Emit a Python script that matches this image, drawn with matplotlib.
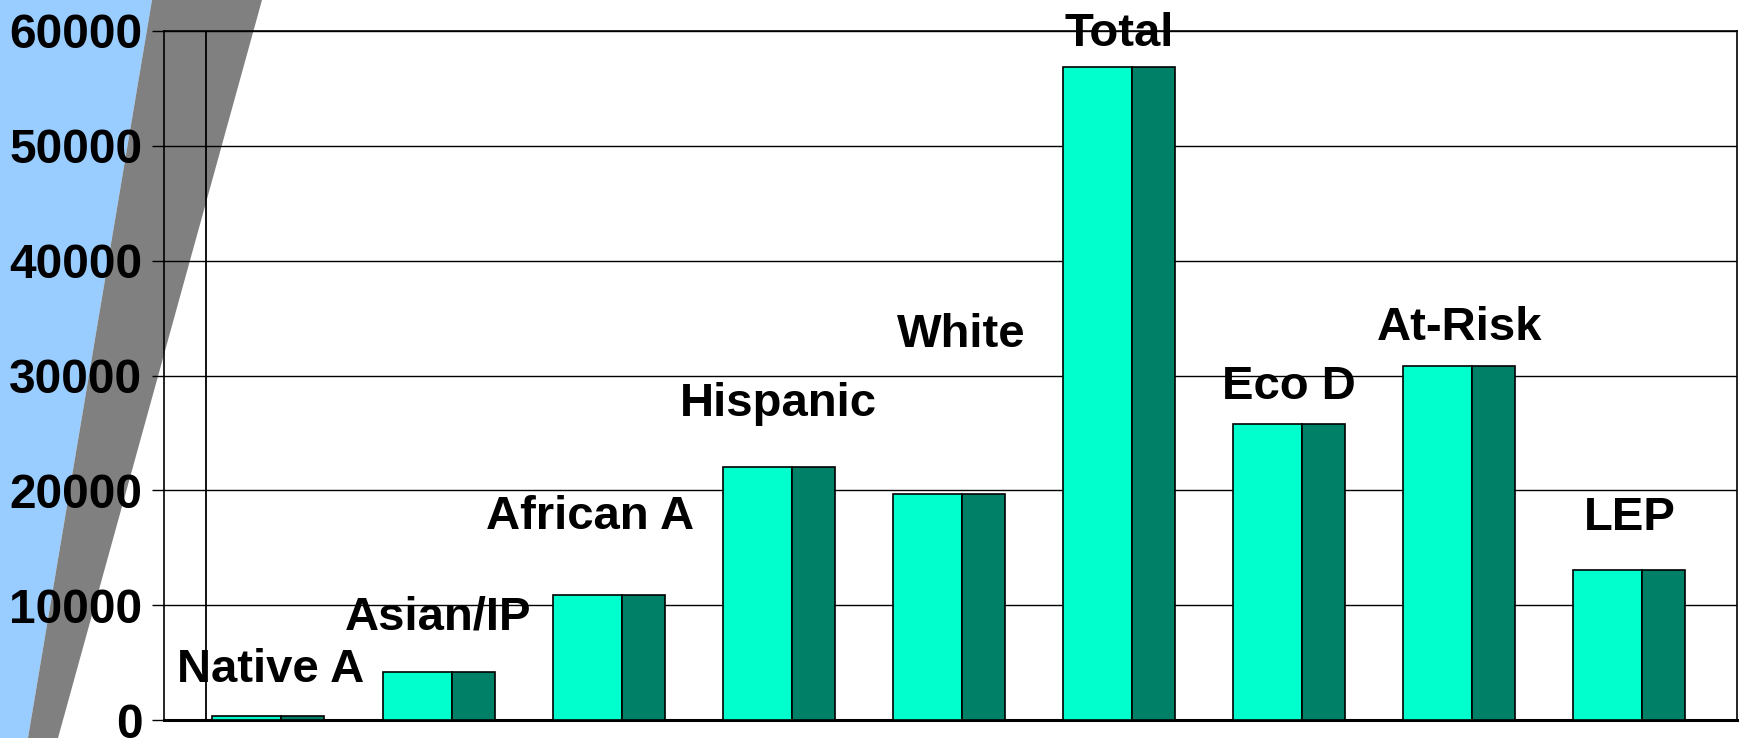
import matplotlib.pyplot as plt
from matplotlib.patches import Polygon

plt.rcParams['font.family'] = ['Liberation Sans', 'DejaVu Sans']
plt.rcParams['font.weight'] = 'bold'

categories = ['Native A', 'Asian/IP', 'African A', 'Hispanic', 'White',
              'Total', 'Eco D', 'At-Risk', 'LEP']
values = [350, 4200, 10900, 22000, 19700, 56900, 25800, 30800, 13100]
yticks = [0, 10000, 20000, 30000, 40000, 50000, 60000]

# label nudges in pixels (x, y above bar top)
label_dx = [2, 0, -19, 0, 12, 0, 0, 0, 0]
label_dy = [46, 54, 78, 63, 159, 33, 37, 38, 52]

W, H = 1741, 738
fig = plt.figure(figsize=(W / 100, H / 100), dpi=100)

# background shapes (pixel coords, top origin)
def px(pts):
    return [(x / W, 1 - y / H) for x, y in pts]

fig.patches.append(Polygon(px([(0, 0), (152, 0), (28, 738), (0, 738)]),
                           closed=True, transform=fig.transFigure,
                           facecolor='#99ccff', edgecolor='none', zorder=0))
fig.patches.append(Polygon(px([(152, 0), (262, 0), (58, 738), (28, 738)]),
                           closed=True, transform=fig.transFigure,
                           facecolor='#808080', edgecolor='none', zorder=0))

ax = fig.add_axes([164 / W, (H - 720) / H, (1737 - 164) / W, 689 / H])
ax.set_facecolor('none')
ax.set_zorder(2)

front_w = 0.406
side_w = 0.253
half = (front_w + side_w) / 2
x = list(range(len(categories)))
left = [i - half for i in x]

ax.bar(left, values, width=front_w, align='edge', color='#00ffcc',
       edgecolor='black', linewidth=1.2, zorder=3)
ax.bar([l + front_w for l in left], values, width=side_w, align='edge',
       color='#008066', edgecolor='black', linewidth=1.2, zorder=3)

for i, (c, v) in enumerate(zip(categories, values)):
    ax.annotate(c, (i, v), xytext=(label_dx[i] * 0.72, label_dy[i] * 0.72),
                textcoords='offset points', ha='center', va='center',
                fontsize=34, fontweight='bold', color='black', zorder=5,
                annotation_clip=False)

ax.set_xlim(-0.614, 8.633)
ax.set_ylim(0, 60000)
ax.set_yticks(yticks)
ax.set_yticklabels([str(t) for t in yticks], fontsize=34.5, fontweight='bold')
ax.set_xticks([])
ax.tick_params(axis='y', direction='out', length=8.6, width=1, pad=7)
ax.yaxis.grid(True, color='black', linewidth=1.0, zorder=1)
ax.set_axisbelow(True)

# back wall edge
ax.axvline(-0.614 + 42 / 170.1, color='black', linewidth=1.3, zorder=2)

for s in ['left', 'right', 'top']:
    ax.spines[s].set_linewidth(1.2)
ax.spines['bottom'].set_linewidth(2.2)

fig.savefig('out.png', dpi=100)
